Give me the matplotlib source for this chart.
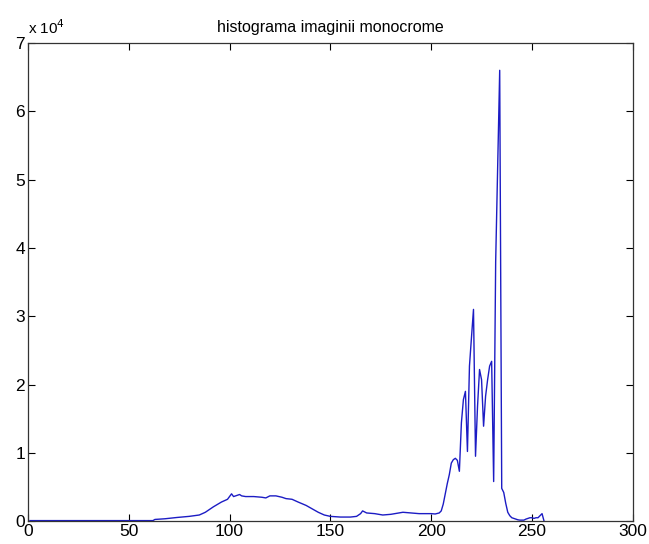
import matplotlib
matplotlib.use("Agg")
from matplotlib import pyplot as plt

# grey levels (x) and pixel counts
levels = [1, 10, 20, 30, 40, 50, 60, 62, 63, 68, 74, 80, 85, 88, 92, 96, 99,
          101, 102, 103, 105, 106, 108, 112, 116, 118, 120, 123, 126, 128, 131,
          134, 138, 141, 144, 147, 150, 155, 160, 163, 165, 166, 168, 172, 176,
          180, 184, 186, 190, 194, 198, 200, 202, 204,
          205, 206, 207, 208, 209, 210, 211, 212, 213, 214, 215, 216, 217, 218,
          219, 220, 221, 222, 223, 224, 225, 226, 227, 228, 229, 230, 231, 232,
          233, 234, 235, 236, 237, 238, 239, 240, 241, 242, 243, 244, 245, 246,
          247, 248, 249, 250, 251, 252, 253, 254, 255, 256]
counts = [80, 80, 80, 80, 80, 80, 80, 80, 250, 350, 540, 700, 900, 1300, 2100,
          2800, 3200, 4000, 3600, 3700, 3900, 3700, 3600, 3600, 3500, 3400, 3700,
          3700, 3500, 3300, 3200, 2800, 2300, 1800, 1300, 900, 700, 600, 600, 700,
          1100, 1500, 1200, 1100, 900, 1000, 1200, 1300, 1200, 1100, 1100, 1100,
          1050, 1200,
          1500, 2500, 4000, 5500, 6800, 8500, 9000, 9200, 8900, 7300,
          14400, 17800, 19000, 10200, 22700, 26900, 31000, 9500, 16800, 22200,
          20700, 13900, 18300, 20700, 22700, 23400, 5800, 38000, 52000, 66000,
          4800, 4200, 2600, 1300, 800, 500, 400, 300, 200, 150,
          150, 150, 300, 400, 500, 500, 400, 500, 500, 800, 1100, 0]

xticks = [0, 50, 100, 150, 200, 250, 300]
yticks = [0, 10000, 20000, 30000, 40000, 50000, 60000, 70000]
ytick_labels = ["0", "1", "2", "3", "4", "5", "6", "7"]

plt.rcParams['font.family'] = ['Liberation Sans', 'DejaVu Sans']

fig = plt.figure(figsize=(6.49, 5.44), dpi=100)
ax = fig.add_axes([0.043, 0.042, 0.932, 0.879])

ax.plot(levels, counts, color='#1c1cc4', linewidth=1.0)

ax.set_xlim(0, 300)
ax.set_ylim(0, 70000)
ax.set_xticks(xticks)
ax.set_yticks(yticks)
ax.set_yticklabels(ytick_labels)
ax.tick_params(direction='in', top=True, right=True, labelsize=12.5,
               length=5, width=0.8, pad=2)
for s in ax.spines.values():
    s.set_linewidth(0.9)
    s.set_color('#333333')

ax.set_title("histograma imaginii monocrome", fontsize=11.5, pad=8)
ax.text(0.0, 1.012, r"x 10$^4$", transform=ax.transAxes, fontsize=11,
        ha='left', va='bottom')

fig.savefig("out.png", dpi=100)
